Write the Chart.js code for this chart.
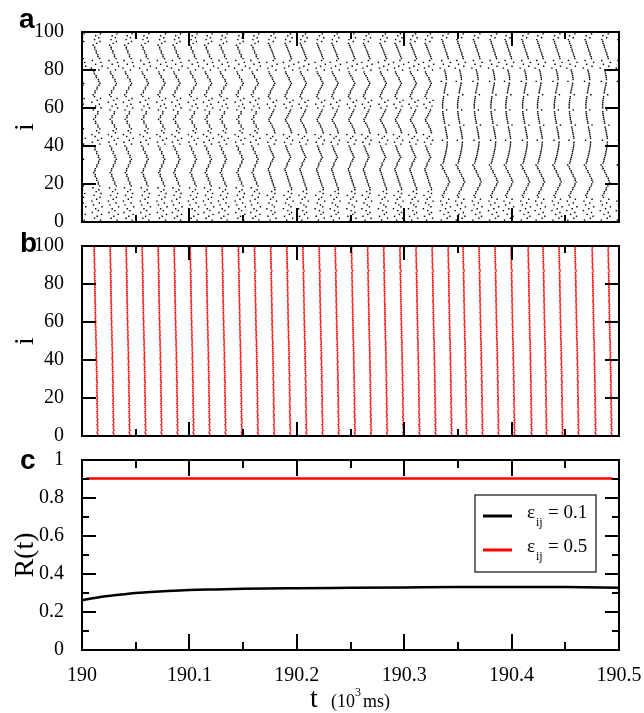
<!DOCTYPE html>
<html lang="en">
  <head>
    <meta charset="UTF-8" />
    <title>Raster plots and R(t)</title>
    <script src="https://cdn.jsdelivr.net/npm/chart.js"></script>
    <style>
      body { margin: 0; background: #fff; overflow: hidden; }
      .wrap { position: relative; width: 644px; height: 713px; overflow: hidden; }
      canvas { position: absolute; left: 0; }
      #chartA { top: 0; }
      #chartB { top: 220px; }
      #chartC { top: 435px; }
      .lbl {
        position: absolute;
        font: bold 28px "Liberation Sans", Arial, sans-serif;
        line-height: 28px;
      }
    </style>
  </head>
  <body>
    <div class="wrap">
      <canvas id="chartA" width="644" height="250"></canvas>
      <canvas id="chartB" width="644" height="245"></canvas>
      <canvas id="chartC" width="652" height="278"></canvas>
      <div class="lbl" style="left:19px; top:5px">a</div>
      <div class="lbl" style="left:20px; top:229px">b</div>
      <div class="lbl" style="left:20px; top:446px">c</div>
    </div>

    <script>
      // wave onsets in ms after t = 190 s (read from column positions)
      var wavesA = [-1.5, 13.7, 29.1, 43.1, 58.7, 74.2, 88.2, 103.6, 117.6, 131.6,
        147.1, 161.1, 176.6, 192.1, 206.1, 221.6, 235.6, 251.1, 265.1, 280.5,
        294.5, 308.5, 322.4, 338.0, 352.0, 367.5, 383.0, 396.9, 412.5, 426.4,
        442.0, 455.9, 471.4, 487.0, 502.0];
      var wavesB = [13.0, 27.9, 42.8, 57.7, 72.6, 87.5, 102.4, 117.3, 132.2, 147.3,
        162.3, 177.4, 192.4, 207.4, 222.5, 237.5, 252.6, 267.6, 282.6, 297.7,
        312.7, 327.7, 342.6, 356.5, 371.4, 386.3, 401.2, 417.1, 431.0, 445.9,
        460.8, 476.7, 491.6];

      // per-neuron firing lag (ms) inside a wave, neuron 1..100
      // panel a drifts, so three lag patterns for three stretches of time
      var segEndsA = [170, 330];
      var offsetsA1 = [3.5, -2.0, 0.5, 4.5, -4.0, 1.5, -1.0, 5.0, -3.0, 2.5,
        -4.5, 0.0, 3.0, -2.5, 4.0, -0.5, 2.0, -3.5, 2.8, 1.5,
        1.4, 0.1, -0.1, -1.3, -1.4, -2.8, -1.7, -1.4, 0.0, 0.2,
        1.6, 1.8, 2.9, 1.6, 1.6, 0.0, 0.1, -1.6, -1.5, -3.0,
        3.0, -4.0, 1.0, 4.5, -1.5, -4.5, 2.0, 0.0, 2.9, 1.2,
        1.0, -0.9, -1.1, -2.9, -1.2, -1.0, 0.9, 1.1, -3.0, 4.0,
        -1.0, 2.5, -4.5, 0.5, 3.5, -2.0, -3.3, -1.6, -1.5, 0.3,
        0.5, 2.3, 3.0, 1.8, 1.5, -0.3, -0.6, -2.1, -2.7, 2.0,
        -5.0, 5.0, -1.0, 4.0, -4.0, 2.7, 1.2, 1.1, -0.3, -0.5,
        -1.8, -1.9, -3.3, 0.0, 3.0, -2.0, 2.0, -1.0, 3.5, 1.0];
      var offsetsA2 = [-1.5, 4.0, -3.5, 1.0, 3.0, -0.5, -4.5, 2.5, 0.5, -2.5,
        4.5, -1.0, 1.5, -4.0, 3.0, 0.0, 3.0, 2.9, 1.8, 1.5,
        0.6, 0.3, -0.5, -0.8, -1.7, -1.9, -2.8, -3.1, -2.0, -1.2,
        -0.9, 0.4, 1.1, 2.2, 1.4, 0.7, -0.2, -1.1, -1.4, -2.4,
        2.5, -3.5, 4.0, -1.0, 1.0, -4.5, 3.0, 2.4, 2.0, 0.8,
        0.3, -0.9, -2.2, -2.6, -1.4, -0.4, 0.2, 1.3, 2.1, -2.0,
        3.5, -4.0, 1.5, 4.5, -1.5, -3.0, -2.5, -1.3, -1.0, 0.2,
        1.2, 2.1, 2.8, 1.9, 0.8, 0.5, -0.8, -1.9, -2.6, 4.0,
        -3.5, 0.5, 5.0, -4.5, 1.5, 3.0, 2.2, 1.6, 0.9, 0.2,
        -0.6, -1.3, -2.0, -2.9, 1.5, -2.5, 3.5, -0.5, 2.0, -3.0];
      var offsetsA3 = [-3.5, 2.0, 4.5, -1.0, 3.0, -4.5, 0.5, 5.0, -2.5, 1.5,
        -4.0, 3.5, -1.5, -2.4, -1.0, -0.6, 0.9, 1.3, 2.7, 3.1,
        4.2, 3.4, 2.9, 1.6, 1.2, -0.1, -0.5, -1.8, -2.3, -3.6,
        -1.8, -1.2, -0.9, -0.3, 0.1, 0.6, 0.8, 1.3, 1.5, 1.9,
        2.0, 2.2, -2.5, 2.1, 1.9, 1.5, 1.3, 0.8, 0.5, 0.1,
        3.5, -0.4, -0.6, -1.1, -1.3, -1.6, -1.9, -2.0, 1.5, -2.3,
        -2.2, -2.3, -2.0, -1.9, -1.5, -1.3, 2.5, -0.8, -0.5, -0.1,
        0.2, 0.7, 0.9, -3.5, 1.3, 1.2, 0.9, 0.5, 0.1, -0.4,
        -4.5, 3.5, -1.5, 5.0, -3.0, 3.0, 2.6, 1.8, 1.5, 0.6,
        0.2, -0.6, -0.9, -1.8, -2.1, -3.0, 1.5, -2.0, 3.0, 0.0];
      var offsetsB = [1.6, 1.2, 1.9, 1.4, 1.5, 1.1, 1.7, 1.3, 1.6, 1.0,
        1.4, 1.2, 0.9, 1.5, 1.1, 1.3, 0.8, 1.2, 1.0, 1.4,
        0.9, 1.1, 0.7, 1.2, 0.8, 1.0, 0.6, 1.1, 0.9, 0.5,
        0.8, 1.0, 0.6, 0.7, 0.4, 0.8, 0.5, 0.3, 0.7, 0.4,
        0.2, 0.5, 0.3, 0.6, 0.1, 0.4, 0.2, 0.0, 0.3, 0.1,
        0.0, -0.3, 0.1, -0.2, 0.0, -0.4, -0.1, -0.3, -0.5, -0.2,
        -0.4, -0.6, -0.3, -0.5, -0.7, -0.4, -0.6, -0.8, -0.5, -0.7,
        -0.9, -0.6, -0.8, -1.0, -0.7, -0.9, -1.1, -0.8, -1.0, -1.2,
        -0.9, -1.1, -1.3, -1.0, -1.2, -1.4, -0.6, -1.3, -1.5, -1.2,
        -1.4, -1.6, -1.3, -1.5, -1.7, -1.4, -1.6, -1.8, -1.5, -1.7];

      // order parameter R(t), t in ms after 190 s
      var rTimes = [0, 10, 20, 30, 40, 50, 60, 80, 100, 125, 150, 200, 250, 300, 350, 400, 450, 500];
      var r01 = [0.262, 0.272, 0.281, 0.288, 0.294, 0.300, 0.304, 0.311, 0.316, 0.319,
        0.322, 0.325, 0.327, 0.329, 0.331, 0.332, 0.331, 0.328];
      var r05Times = [4, 494];
      var r05 = [0.903, 0.903];

      var xTickVals = [190, 190.1, 190.2, 190.3, 190.4, 190.5];
      var xMinorVals = [190.05, 190.15, 190.25, 190.35, 190.45];
      var yTicksRaster = [0, 20, 40, 60, 80, 100];
      var yTicksR = [0, 0.2, 0.4, 0.6, 0.8, 1];
      var yMinorR = [0.1, 0.3, 0.5, 0.7, 0.9];

      var serif = '"Liberation Serif", "Times New Roman", serif';
      var topC = 435; // page offset of the bottom canvas

      function rasterPoints(waves, pickProfile) {
        var pts = [];
        waves.forEach(function (w) {
          var prof = pickProfile(w);
          for (var i = 0; i < 100; i++) {
            var t = w + prof[i];
            if (t >= 0 && t <= 500) pts.push({ x: 190 + t / 1000, y: i + 1 });
          }
        });
        return pts;
      }

      // box round the plot with inward ticks on all four sides
      var framePlugin = {
        id: "frame",
        afterDraw: function (chart, args, o) {
          var ctx = chart.ctx, a = chart.chartArea;
          var xs = chart.scales.x, ys = chart.scales.y;
          ctx.save();
          ctx.strokeStyle = "#000";
          ctx.lineWidth = 2;
          function seg(x1, y1, x2, y2) {
            ctx.beginPath(); ctx.moveTo(x1, y1); ctx.lineTo(x2, y2); ctx.stroke();
          }
          function xt(v, len) {
            var p = Math.round(xs.getPixelForValue(v));
            seg(p, a.top, p, a.top + len);
            seg(p, a.bottom, p, a.bottom - len);
          }
          function yt(v, len) {
            var p = Math.round(ys.getPixelForValue(v));
            seg(a.left, p, a.left + len, p);
            seg(a.right, p, a.right - len, p);
          }
          o.xMajor.forEach(function (v) { xt(v, o.xMajLen); });
          o.xMinor.forEach(function (v) { xt(v, o.xMinLen); });
          o.yMajor.forEach(function (v) { yt(v, 14); });
          o.yMinor.forEach(function (v) { yt(v, 7); });
          ctx.strokeRect(a.left, a.top, a.right - a.left, a.bottom - a.top);
          ctx.restore();
        }
      };

      function yRasterScale() {
        return {
          type: "linear", min: 0, max: 100,
          afterBuildTicks: function (s) { s.ticks = yTicksRaster.map(function (v) { return { value: v }; }); },
          afterFit: function (s) { s.width = 82; },
          grid: { display: false },
          border: { display: false },
          ticks: { padding: 10, color: "#000", font: { family: serif, size: 20 } },
          title: { display: true, text: "i", color: "#000", font: { family: serif, size: 28 }, padding: { top: 9, bottom: 0 } }
        };
      }

      function rasterChart(id, points, color, radius, padTop, padBottom) {
        return new Chart(document.getElementById(id), {
          type: "scatter",
          data: {
            datasets: [{
              data: points, pointStyle: "rect", pointRadius: radius,
              pointBorderWidth: 0, backgroundColor: color, borderColor: color
            }]
          },
          options: {
            responsive: false,
            animation: false,
            layout: { padding: { top: padTop, bottom: padBottom, left: 0, right: 25 } },
            plugins: {
              legend: { display: false },
              tooltip: { enabled: false },
              frame: { xMajor: xTickVals, xMinor: xMinorVals, yMajor: yTicksRaster, yMinor: [], xMajLen: 14, xMinLen: 7 }
            },
            scales: {
              x: { type: "linear", min: 190, max: 190.5, display: false },
              y: yRasterScale()
            }
          },
          plugins: [framePlugin]
        });
      }

      rasterChart("chartA", rasterPoints(wavesA, function (w) {
        if (w < segEndsA[0]) return offsetsA1;
        if (w < segEndsA[1]) return offsetsA2;
        return offsetsA3;
      }), "#000", 1.0, 32, 28);

      rasterChart("chartB", rasterPoints(wavesB, function () { return offsetsB; }), "#f00", 1.15, 26, 29);

      // x title with superscript and legend with subscripts
      var annotPlugin = {
        id: "annot",
        afterDraw: function (chart) {
          var ctx = chart.ctx;
          ctx.save();
          ctx.translate(0, -topC);
          ctx.fillStyle = "#000";
          ctx.textBaseline = "alphabetic";
          ctx.font = "28px " + serif;
          ctx.fillText("t", 310, 707);
          ctx.font = "18px " + serif;
          ctx.fillText("(10", 331, 707);
          ctx.font = "12px " + serif;
          ctx.fillText("3", 355, 696);
          ctx.font = "18px " + serif;
          ctx.fillText("ms)", 363, 707);

          // legend
          var lx = 475, ly = 495, lw = 121, lh = 77;
          ctx.fillStyle = "#fff";
          ctx.fillRect(lx, ly, lw, lh);
          ctx.strokeStyle = "#222";
          ctx.lineWidth = 1.3;
          ctx.strokeRect(lx, ly, lw, lh);
          var rows = [[516, 518], [550, 552]];
          chart.data.datasets.forEach(function (ds, k) {
            var sy = rows[k][0], by = rows[k][1];
            ctx.strokeStyle = ds.borderColor;
            ctx.lineWidth = 3;
            ctx.beginPath(); ctx.moveTo(483, sy); ctx.lineTo(512, sy); ctx.stroke();
            ctx.fillStyle = "#000";
            ctx.font = "19px " + serif;
            ctx.fillText("ε", 527, by);
            ctx.font = "12px " + serif;
            ctx.fillText("ij", 536, by + 8);
            ctx.font = "19px " + serif;
            ctx.fillText("= " + ds.label, 548, by);
          });
          ctx.restore();
        }
      };

      new Chart(document.getElementById("chartC"), {
        type: "line",
        data: {
          datasets: [
            {
              label: "0.1",
              data: rTimes.map(function (t, k) { return { x: 190 + t / 1000, y: r01[k] }; }),
              borderColor: "#000", borderWidth: 2.5, pointRadius: 0,
              cubicInterpolationMode: "monotone"
            },
            {
              label: "0.5",
              data: r05Times.map(function (t, k) { return { x: 190 + t / 1000, y: r05[k] }; }),
              borderColor: "#f00", borderWidth: 2.5, pointRadius: 0
            }
          ]
        },
        options: {
          responsive: false,
          animation: false,
          layout: { padding: { top: 25, bottom: 0, left: 0, right: 33 } },
          plugins: {
            legend: { display: false },
            tooltip: { enabled: false },
            frame: { xMajor: xTickVals, xMinor: xMinorVals, yMajor: yTicksR, yMinor: yMinorR, xMajLen: 16, xMinLen: 8 }
          },
          scales: {
            x: {
              type: "linear", min: 190, max: 190.5,
              afterBuildTicks: function (s) { s.ticks = xTickVals.map(function (v) { return { value: v }; }); },
              afterFit: function (s) { s.height = 63; },
              grid: { display: false },
              border: { display: false },
              ticks: {
                padding: 6, color: "#000", maxRotation: 0, autoSkip: false,
                font: { family: serif, size: 20 },
                callback: function (v) { return String(+v.toFixed(1)); }
              }
            },
            y: {
              type: "linear", min: 0, max: 1,
              afterBuildTicks: function (s) { s.ticks = yTicksR.map(function (v) { return { value: v }; }); },
              afterFit: function (s) { s.width = 82; },
              grid: { display: false },
              border: { display: false },
              ticks: {
                padding: 10, color: "#000", font: { family: serif, size: 20 },
                callback: function (v) { return String(+v.toFixed(1)); }
              },
              title: { display: true, text: "R(t)", color: "#000", font: { family: serif, size: 28 }, padding: { top: 9, bottom: 0 } }
            }
          }
        },
        plugins: [framePlugin, annotPlugin]
      });
    </script>
  </body>
</html>
